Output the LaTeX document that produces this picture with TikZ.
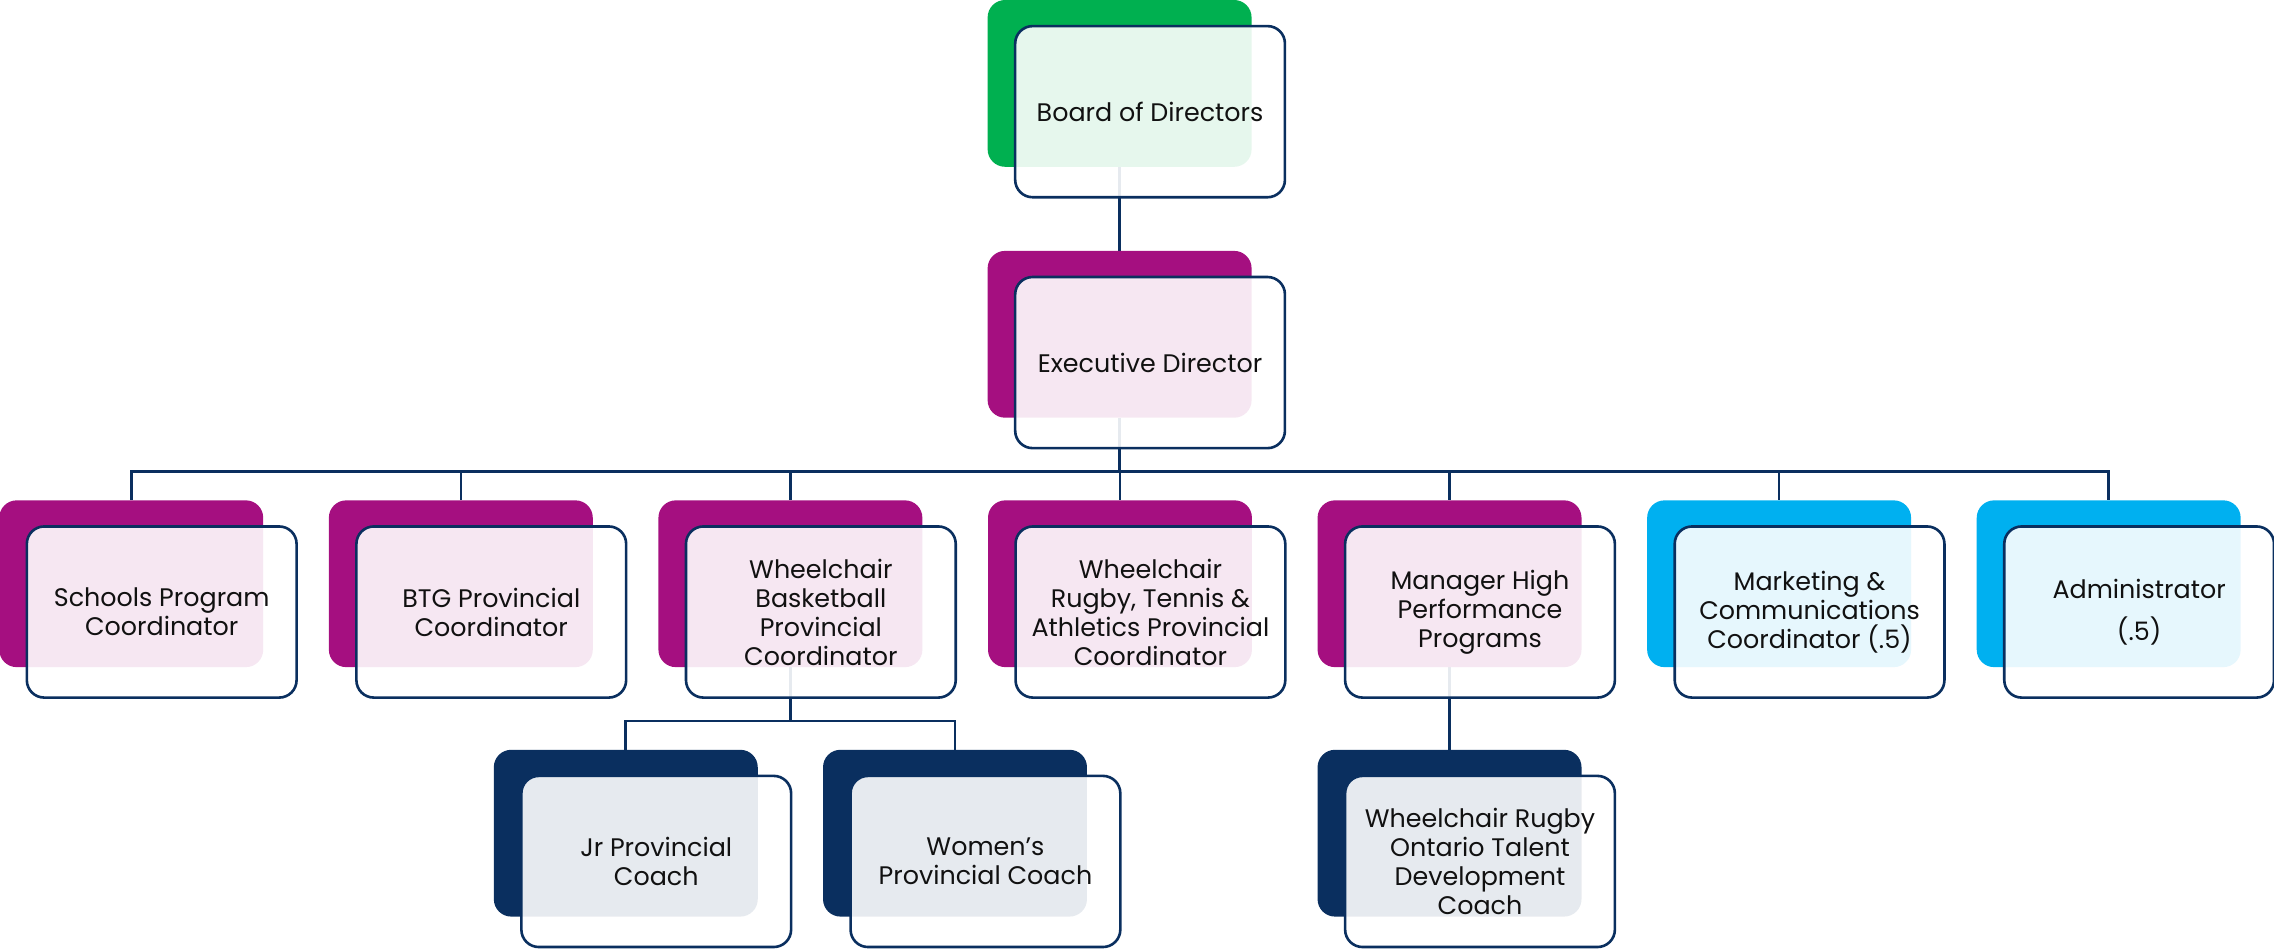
\documentclass[tikz,border=0pt]{standalone}
\usepackage{fontspec}
\setmainfont{Poppins}
\usetikzlibrary{calc,backgrounds}
\definecolor{navy}{HTML}{0A2F5F}
\definecolor{dgreen}{HTML}{00B050}
\definecolor{magenta}{HTML}{A50F80}
\definecolor{sky}{HTML}{00B0F0}
\definecolor{txt}{HTML}{111111}
\newcommand\orgbox[5]{%
  \node[backbox, fill=#4] (#1-b) at (#2,#3) {};
  \node[frontbox] (#1) at ($(#1-b)+(21,19.5)$) {#5};
}
\begin{document}
\begin{tikzpicture}[x=1pt,y=-1pt,
  backbox/.style={rectangle, rounded corners=12pt, minimum width=182pt, minimum height=115pt, inner sep=0pt, draw=none},
  frontbox/.style={rectangle, rounded corners=12pt, minimum width=186pt, minimum height=118pt, inner sep=0pt, draw=navy, line width=1.8pt, fill=white, fill opacity=0.9, text opacity=1, text=txt, align=center, font=\fontsize{17.5}{20}\selectfont},
  link/.style={draw=navy, line width=1.8pt}]
\useasboundingbox (0,0) rectangle (1568,654);
\orgbox{bod}{772}{57.5}{dgreen}{Board of Directors}
\orgbox{ed}{772}{230.5}{magenta}{Executive Director}
\orgbox{spc}{90.5}{402.5}{magenta}{Schools Program\\Coordinator}
\orgbox{btg}{317.75}{402.5}{magenta}{BTG Provincial\\Coordinator}
\orgbox{wbb}{545}{402.5}{magenta}{Wheelchair\\Basketball\\Provincial\\Coordinator}
\orgbox{wr}{772.25}{402.5}{magenta}{Wheelchair\\Rugby, Tennis \&\\Athletics Provincial\\Coordinator}
\orgbox{mhp}{999.5}{402.5}{magenta}{Manager High\\Performance\\Programs}
\orgbox{mkt}{1226.75}{402.5}{sky}{Marketing \&\\Communications\\Coordinator (.5)}
\orgbox{adm}{1454}{402.5}{sky}{Administrator\\[9pt](.5)}
\orgbox{jr}{431.5}{574.5}{navy}{Jr Provincial\\Coach}
\orgbox{wpc}{658.5}{574.5}{navy}{Women’s\\Provincial Coach}
\orgbox{wro}{999.5}{574.5}{navy}{Wheelchair Rugby\\Ontario Talent\\Development\\Coach}
\begin{scope}[on background layer]
  \draw[link] (bod-b.south) -- (ed-b.north);
  \foreach \c in {spc,btg,wbb,wr,mhp,mkt,adm}
    \draw[link] (ed-b.south) -- ++(0,37) -| (\c-b.north);
  \foreach \c in {jr,wpc}
    \draw[link] (wbb-b.south) -- ++(0,37) -| (\c-b.north);
  \draw[link] (mhp-b.south) -- (wro-b.north);
\end{scope}
\end{tikzpicture}
\end{document}
